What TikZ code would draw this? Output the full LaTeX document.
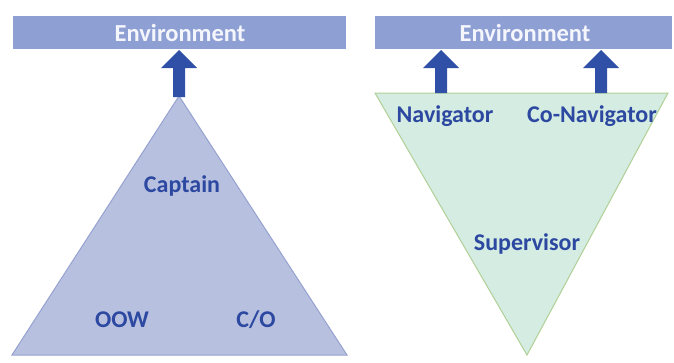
\documentclass[tikz,border=0pt]{standalone}
\usepackage{fontspec}
\setmainfont{Carlito}
\begin{document}
\begin{tikzpicture}[x=1pt,y=-1pt,
  envbar/.style={fill=envfill,draw=none},
  envtext/.style={text=envtxt,font=\bfseries\fontsize{24.5}{24.5}\selectfont},
  roletext/.style={text=roletxt,font=\bfseries\fontsize{24}{24}\selectfont},
  blockarrow/.style={fill=arrowblue,draw=none},
  pyramid/.style={fill=pyrfill,draw=pyredge,line width=1pt},
  funnel/.style={fill=funfill,draw=funedge,line width=1pt}]
\definecolor{envfill}{RGB}{142,159,212}
\definecolor{envtxt}{RGB}{244,246,252}
\definecolor{roletxt}{RGB}{44,72,160}
\definecolor{arrowblue}{RGB}{48,80,168}
\definecolor{pyrfill}{RGB}{184,192,224}
\definecolor{pyredge}{RGB}{150,162,208}
\definecolor{funfill}{RGB}{212,236,226}
\definecolor{funedge}{RGB}{176,208,150}
\useasboundingbox[fill=white] (0,0) rectangle (674,362);

% upward block arrow: centre x, tip y, bottom y
\newcommand{\uparrowblock}[3]{%
  \fill[blockarrow] (#1-6,#3) -- (#1-6,68) -- (#1-18,68) -- (#1,#2)
    -- (#1+18,68) -- (#1+6,68) -- (#1+6,#3) -- cycle;}

% left: hierarchical command
\fill[envbar] (13,16) rectangle (346,49);
\node[envtext] (envL) at (180,33) {Environment};
\draw[pyramid] (179,96) -- (12,355) -- (347,355) -- cycle;
\uparrowblock{179}{50}{97}
\node[roletext] (captain) at (182,186) {Captain};
\node[roletext] (oow) at (122,320) {OOW};
\node[roletext] (co) at (256,320) {C/O};

% right: shared navigation
\fill[envbar] (375,16) rectangle (672,49);
\node[envtext] (envR) at (525,33) {Environment};
\draw[funnel] (375,93) -- (668,93) -- (527,355) -- cycle;
\uparrowblock{441}{50}{93}
\uparrowblock{601}{50}{93}
\node[roletext] (nav) at (445,116) {Navigator};
\node[roletext] (conav) at (592,116) {Co-Navigator};
\node[roletext] (sup) at (527,244) {Supervisor};
\end{tikzpicture}
\end{document}
